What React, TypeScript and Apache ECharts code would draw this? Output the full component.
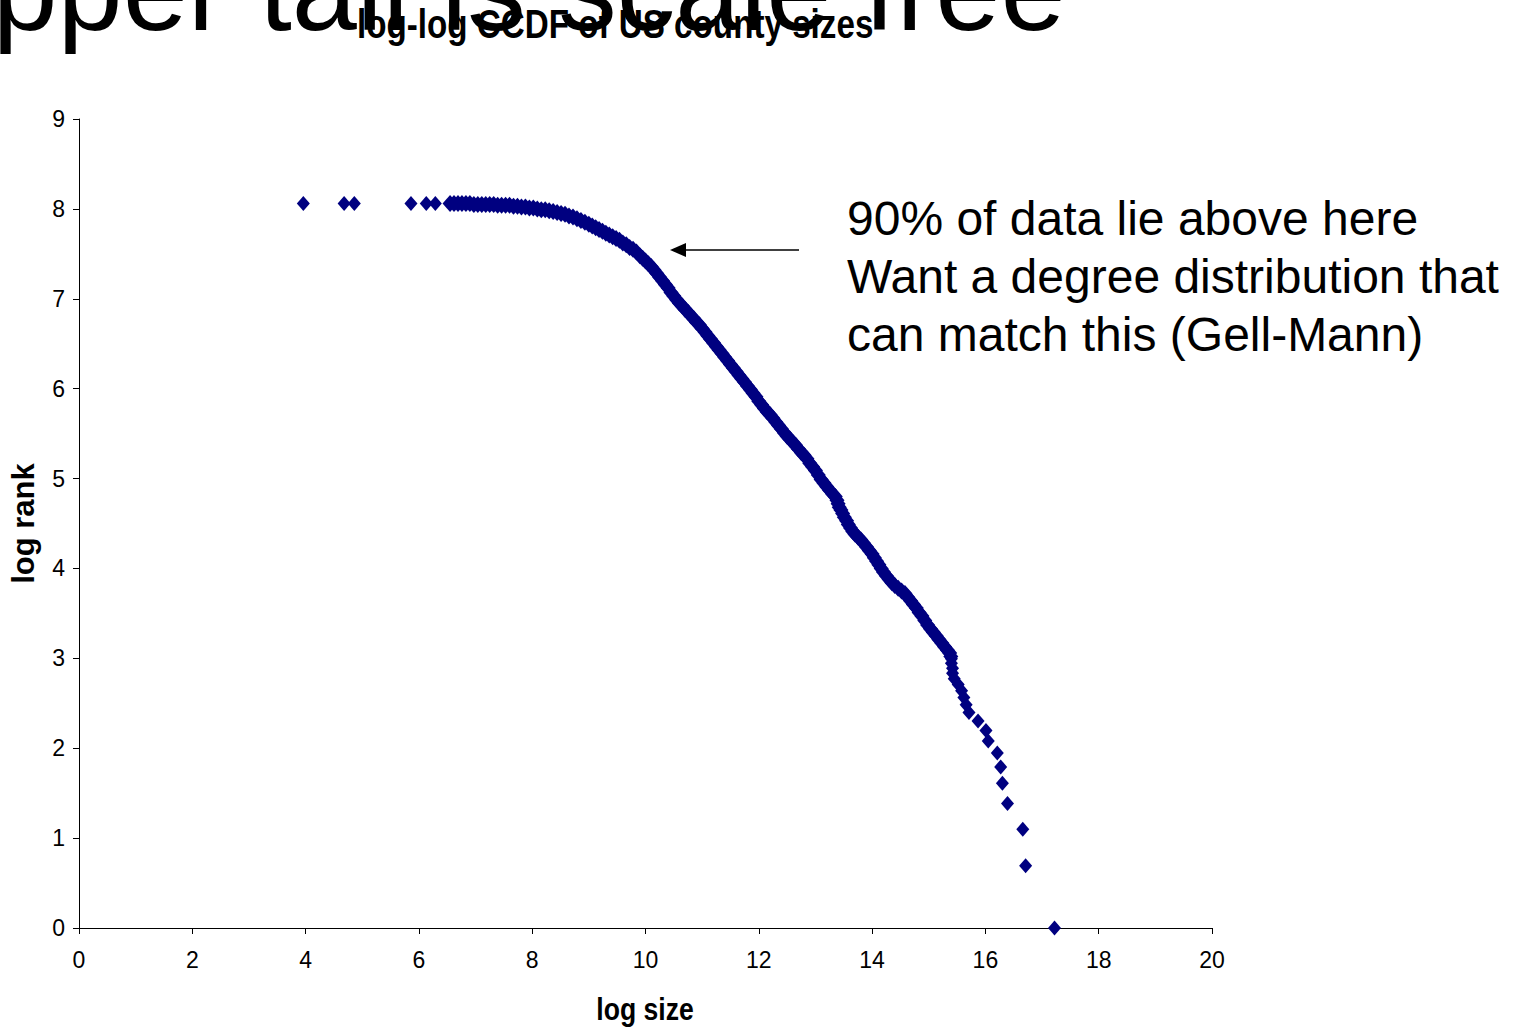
import React, { useEffect, useRef } from "react";
import * as echarts from "echarts";

// ---- data (log size, log rank) ----
const xTicks = [0, 2, 4, 6, 8, 10, 12, 14, 16, 18, 20];
const yTicks = [0, 1, 2, 3, 4, 5, 6, 7, 8, 9];

const smallestCounties: [number, number][] = [
  [3.96, 8.06], [4.68, 8.06], [4.86, 8.06], [5.86, 8.06], [6.13, 8.06], [6.29, 8.06],
];

const flatBand: [number, number][] = [
  [6.55, 8.06], [6.62, 8.06], [6.69, 8.06], [6.76, 8.06], [6.83, 8.06], [6.9, 8.06],
  [6.97, 8.05], [7.04, 8.05], [7.11, 8.05], [7.18, 8.05], [7.25, 8.05], [7.32, 8.05],
  [7.39, 8.04], [7.46, 8.04], [7.53, 8.04], [7.6, 8.04], [7.67, 8.03], [7.74, 8.03],
  [7.81, 8.02], [7.88, 8.02], [7.95, 8.01], [8.02, 8.01], [8.09, 8.0], [8.16, 7.99],
  [8.23, 7.99], [8.3, 7.98], [8.37, 7.97], [8.44, 7.96], [8.51, 7.95], [8.58, 7.94],
  [8.65, 7.92], [8.72, 7.91], [8.79, 7.89], [8.86, 7.87], [8.93, 7.85], [9.0, 7.83],
  [9.06, 7.81], [9.12, 7.79], [9.18, 7.77], [9.24, 7.75],
];

const bendBand: [number, number][] = [
  [9.3, 7.73], [9.36, 7.71], [9.42, 7.69], [9.48, 7.67], [9.54, 7.65], [9.6, 7.62],
  [9.66, 7.6], [9.72, 7.57], [9.78, 7.55], [9.84, 7.52], [9.9, 7.48], [9.95, 7.45],
  [10.0, 7.42], [10.05, 7.39], [10.1, 7.36], [10.15, 7.32], [10.2, 7.28], [10.25, 7.24],
  [10.3, 7.2], [10.35, 7.16], [10.4, 7.12], [10.45, 7.07], [10.5, 7.03], [10.55, 6.99],
  [10.6, 6.95], [10.65, 6.92], [10.7, 6.88], [10.75, 6.85], [10.8, 6.81], [10.85, 6.78],
  [10.9, 6.74], [10.95, 6.71], [11.0, 6.67], [11.05, 6.63], [11.1, 6.59], [11.15, 6.55],
  [11.2, 6.51], [11.25, 6.47], [11.3, 6.43], [11.35, 6.39], [11.4, 6.35], [11.45, 6.31],
  [11.5, 6.27], [11.55, 6.23], [11.6, 6.19], [11.65, 6.15], [11.7, 6.11], [11.75, 6.07],
  [11.8, 6.03], [11.85, 5.99], [11.9, 5.95], [11.95, 5.91], [12.0, 5.86], [12.05, 5.82],
  [12.1, 5.78], [12.15, 5.74], [12.2, 5.71], [12.25, 5.67], [12.3, 5.63], [12.35, 5.59],
  [12.4, 5.55], [12.45, 5.51], [12.5, 5.47], [12.55, 5.44], [12.6, 5.4], [12.65, 5.37],
  [12.7, 5.33], [12.75, 5.29], [12.8, 5.26], [12.85, 5.22], [12.9, 5.17], [12.95, 5.13],
];

const slopeBand: [number, number][] = [
  [13.0, 5.09], [13.05, 5.04], [13.1, 4.99], [13.15, 4.95], [13.2, 4.91], [13.25, 4.87],
  [13.3, 4.83], [13.35, 4.8], [13.38, 4.76], [13.4, 4.72], [13.42, 4.68], [13.45, 4.65],
  [13.48, 4.61], [13.51, 4.57], [13.55, 4.53], [13.58, 4.49], [13.62, 4.45], [13.66, 4.41],
  [13.7, 4.38], [13.75, 4.35], [13.8, 4.32], [13.85, 4.28], [13.9, 4.24], [13.95, 4.2],
  [14.0, 4.16], [14.04, 4.12], [14.08, 4.08], [14.12, 4.04], [14.16, 4.0], [14.2, 3.96],
  [14.25, 3.92], [14.3, 3.88], [14.35, 3.84], [14.4, 3.81], [14.46, 3.78], [14.52, 3.75],
  [14.58, 3.72], [14.63, 3.68], [14.68, 3.64], [14.73, 3.6], [14.78, 3.56], [14.83, 3.51],
  [14.88, 3.47], [14.93, 3.42], [14.98, 3.37], [15.03, 3.33], [15.08, 3.29], [15.13, 3.25],
  [15.18, 3.21], [15.23, 3.17], [15.28, 3.13], [15.33, 3.09], [15.37, 3.06], [15.39, 3.02],
];

const largestCounties: [number, number][] = [
  [15.4, 2.996], [15.4, 2.944], [15.42, 2.89], [15.42, 2.833], [15.45, 2.773],
  [15.52, 2.708], [15.58, 2.639], [15.62, 2.565], [15.66, 2.485], [15.71, 2.398],
  [15.87, 2.303], [16.01, 2.197], [16.05, 2.079], [16.21, 1.946], [16.27, 1.792],
  [16.3, 1.609], [16.39, 1.386], [16.66, 1.099], [16.71, 0.693], [17.22, 0.0],
];

const slideTitle = "Upper tail is scale free";
const chartTitle = "log-log CCDF of US county sizes";
const xName = "log size";
const yName = "log rank";
const noteLines = [
  "90% of data lie above here",
  "Want a degree distribution that",
  "can match this (Gell-Mann)",
];

const REGULAR = '"Liberation Sans", Arial, sans-serif';
const NAVY = "#000080";

export default function App() {
  const ref = useRef<HTMLDivElement>(null);

  useEffect(() => {
    if (!ref.current) return;
    const chart = echarts.init(ref.current, undefined, { renderer: "svg" });
    const densePoints = [...flatBand, ...bendBand, ...slopeBand];
    const singlePoints = [...smallestCounties, ...largestCounties];
    const option: any = {
      animation: false,
      backgroundColor: "#ffffff",
      grid: { left: 76, right: 313, top: 119, bottom: 101, containLabel: false },
      xAxis: {
        type: "value",
        min: xTicks[0],
        max: xTicks[xTicks.length - 1],
        interval: 2,
        axisLine: { show: true, lineStyle: { color: "#000", width: 1 } },
        axisTick: { show: true, inside: false, length: 6, lineStyle: { color: "#000" } },
        axisLabel: { fontFamily: REGULAR, fontSize: 23, color: "#000", margin: 20 },
        splitLine: { show: false },
      },
      yAxis: {
        type: "value",
        min: yTicks[0],
        max: yTicks[yTicks.length - 1],
        interval: 1,
        name: yName,
        nameLocation: "middle",
        nameGap: 40,
        nameRotate: 90,
        nameTextStyle: { fontFamily: REGULAR, fontWeight: "bold", fontSize: 31, color: "#000" },
        axisLine: { show: true, lineStyle: { color: "#000", width: 1 } },
        axisTick: { show: true, inside: false, length: 6, lineStyle: { color: "#000" } },
        axisLabel: { fontFamily: REGULAR, fontSize: 23, color: "#000", margin: 14 },
        splitLine: { show: false },
      },
      series: [
        {
          type: "scatter",
          data: densePoints,
          symbol: "diamond",
          symbolSize: [15, 17],
          itemStyle: { color: NAVY, opacity: 1 },
          emphasis: { disabled: true },
        },
        {
          type: "scatter",
          data: singlePoints,
          symbol: "diamond",
          symbolSize: [13, 15],
          itemStyle: { color: NAVY, opacity: 1 },
          emphasis: { disabled: true },
        },
      ],
      graphic: [
        {
          type: "text",
          x: -92,
          y: -11,
          z: -10,
          style: {
            text: slideTitle,
            font: `117px ${REGULAR}`,
            fill: "#000",
            align: "left",
            verticalAlign: "middle",
          },
        },
        {
          type: "text",
          x: 357,
          y: 24,
          scaleX: 0.83,
          style: {
            text: chartTitle,
            font: `bold 40px ${REGULAR}`,
            fill: "#000",
            align: "left",
            verticalAlign: "middle",
          },
        },
        {
          type: "text",
          x: 645,
          y: 1009,
          scaleX: 0.83,
          style: {
            text: xName,
            font: `bold 32px ${REGULAR}`,
            fill: "#000",
            align: "center",
            verticalAlign: "middle",
          },
        },
        ...noteLines.map((t, i) => ({
          type: "text",
          x: 847,
          y: 218 + i * 58,
          style: {
            text: t,
            font: `48px ${REGULAR}`,
            fill: "#000",
            align: "left",
            verticalAlign: "middle",
          },
        })),
        {
          type: "line",
          shape: { x1: 683, y1: 250, x2: 799, y2: 250 },
          style: { stroke: "#000", lineWidth: 1.5 },
        },
        {
          type: "polygon",
          shape: { points: [[670, 250], [686, 243], [686, 257]] },
          style: { fill: "#000" },
        },
      ],
    };
    chart.setOption(option);
    return () => chart.dispose();
  }, []);

  return (
    <div
      ref={ref}
      style={{ position: "fixed", left: 0, top: 0, width: 1525, height: 1029, background: "#fff" }}
    />
  );
}
